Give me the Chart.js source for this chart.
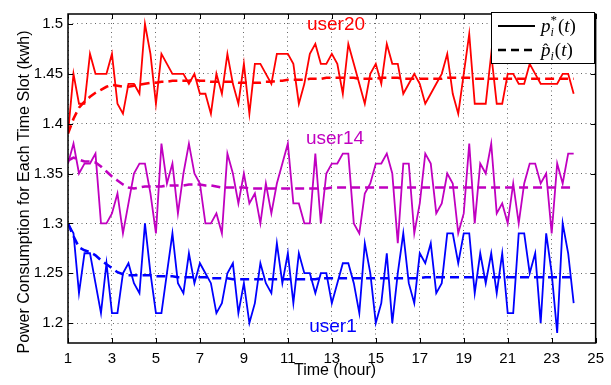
<!DOCTYPE html>
<html>
<head>
<meta charset="utf-8">
<script src="https://cdn.jsdelivr.net/npm/chart.js"></script>
<style>
  html, body { margin: 0; padding: 0; background: #fff; }
  #wrap { width: 611px; height: 385px; }
</style>
</head>
<body>
<div id="wrap"><canvas id="powerChart" width="611" height="385"></canvas></div>
<script>
// time slots (hour), one every 15 min
const times = [1, 1.25, 1.5, 1.75, 2, 2.25, 2.5, 2.75, 3, 3.25, 3.5, 3.75, 4, 4.25, 4.5, 4.75,
  5, 5.25, 5.5, 5.75, 6, 6.25, 6.5, 6.75, 7, 7.25, 7.5, 7.75, 8, 8.25, 8.5, 8.75,
  9, 9.25, 9.5, 9.75, 10, 10.25, 10.5, 10.75, 11, 11.25, 11.5, 11.75, 12, 12.25, 12.5, 12.75,
  13, 13.25, 13.5, 13.75, 14, 14.25, 14.5, 14.75, 15, 15.25, 15.5, 15.75, 16, 16.25, 16.5, 16.75,
  17, 17.25, 17.5, 17.75, 18, 18.25, 18.5, 18.75, 19, 19.25, 19.5, 19.75, 20, 20.25, 20.5, 20.75,
  21, 21.25, 21.5, 21.75, 22, 22.25, 22.5, 22.75, 23, 23.25, 23.5, 23.75, 24];

// p_i^*(t) : solid lines
const user20 = [1.39, 1.45, 1.42, 1.42, 1.47, 1.45, 1.45, 1.45, 1.47, 1.42,
  1.41, 1.44, 1.44, 1.43, 1.50, 1.47, 1.42, 1.47, 1.46, 1.45,
  1.45, 1.45, 1.44, 1.45, 1.43, 1.43, 1.41, 1.45, 1.43, 1.47,
  1.44, 1.42, 1.46, 1.41, 1.46, 1.46, 1.45, 1.44, 1.47, 1.47,
  1.47, 1.46, 1.42, 1.44, 1.47, 1.48, 1.46, 1.46, 1.47, 1.46,
  1.43, 1.48, 1.46, 1.44, 1.42, 1.45, 1.46, 1.44, 1.48, 1.46,
  1.46, 1.43, 1.44, 1.45, 1.44, 1.42, 1.43, 1.44, 1.45, 1.47,
  1.43, 1.41, 1.45, 1.49, 1.42, 1.42, 1.42, 1.47, 1.42, 1.42,
  1.45, 1.45, 1.44, 1.44, 1.46, 1.45, 1.44, 1.44, 1.44, 1.44,
  1.45, 1.45, 1.43];
const user14 = [1.36, 1.38, 1.35, 1.36, 1.36, 1.37, 1.30, 1.30, 1.31, 1.33,
  1.29, 1.32, 1.35, 1.36, 1.36, 1.33, 1.29, 1.38, 1.34, 1.36,
  1.31, 1.35, 1.38, 1.35, 1.34, 1.30, 1.30, 1.31, 1.29, 1.37,
  1.35, 1.32, 1.35, 1.32, 1.33, 1.30, 1.34, 1.31, 1.34, 1.36,
  1.38, 1.32, 1.32, 1.30, 1.30, 1.37, 1.30, 1.35, 1.36, 1.36,
  1.37, 1.37, 1.30, 1.29, 1.33, 1.34, 1.36, 1.36, 1.37, 1.35,
  1.28, 1.36, 1.36, 1.29, 1.32, 1.37, 1.36, 1.31, 1.32, 1.35,
  1.34, 1.29, 1.31, 1.38, 1.30, 1.36, 1.35, 1.38, 1.31, 1.32,
  1.30, 1.34, 1.30, 1.34, 1.36, 1.36, 1.34, 1.35, 1.29, 1.36,
  1.34, 1.37, 1.37];
const user1 = [1.30, 1.29, 1.23, 1.27, 1.27, 1.24, 1.21, 1.26, 1.21, 1.21,
  1.25, 1.26, 1.24, 1.23, 1.30, 1.25, 1.21, 1.21, 1.25, 1.29,
  1.24, 1.23, 1.27, 1.24, 1.26, 1.25, 1.24, 1.21, 1.22, 1.25,
  1.26, 1.21, 1.24, 1.20, 1.22, 1.26, 1.24, 1.23, 1.28, 1.24,
  1.27, 1.22, 1.27, 1.25, 1.25, 1.23, 1.25, 1.25, 1.22, 1.24,
  1.26, 1.26, 1.24, 1.21, 1.28, 1.25, 1.20, 1.22, 1.27, 1.20,
  1.25, 1.29, 1.24, 1.22, 1.27, 1.26, 1.28, 1.23, 1.24, 1.29,
  1.29, 1.26, 1.29, 1.29, 1.23, 1.27, 1.24, 1.27, 1.23, 1.27,
  1.21, 1.21, 1.29, 1.29, 1.25, 1.27, 1.20, 1.29, 1.25, 1.19,
  1.30, 1.27, 1.22];

// p-hat_i(t) : dashed lines
const user20Hat = [1.390, 1.405, 1.416, 1.422, 1.427, 1.431, 1.434, 1.437, 1.439, 1.438,
  1.437, 1.437, 1.438, 1.439, 1.440, 1.441, 1.441, 1.442, 1.442, 1.443,
  1.443, 1.443, 1.443, 1.444, 1.443, 1.443, 1.442, 1.442, 1.442, 1.442,
  1.442, 1.441, 1.441, 1.441, 1.441, 1.441, 1.442, 1.442, 1.443, 1.443,
  1.444, 1.444, 1.444, 1.444, 1.445, 1.445, 1.445, 1.446, 1.446, 1.446,
  1.446, 1.446, 1.446, 1.445, 1.445, 1.445, 1.445, 1.446, 1.446, 1.446,
  1.446, 1.445, 1.445, 1.445, 1.445, 1.445, 1.445, 1.445, 1.445, 1.446,
  1.446, 1.446, 1.446, 1.446, 1.445, 1.445, 1.445, 1.445, 1.445, 1.445,
  1.445, 1.445, 1.445, 1.445, 1.445, 1.445, 1.445, 1.445, 1.445, 1.445,
  1.445, 1.445, 1.445];
const user14Hat = [1.363, 1.366, 1.364, 1.362, 1.362, 1.361, 1.357, 1.352, 1.347, 1.343,
  1.339, 1.336, 1.335, 1.336, 1.337, 1.337, 1.337, 1.337, 1.338, 1.338,
  1.338, 1.338, 1.339, 1.339, 1.339, 1.338, 1.338, 1.337, 1.336, 1.336,
  1.336, 1.336, 1.336, 1.335, 1.335, 1.335, 1.335, 1.335, 1.335, 1.335,
  1.335, 1.335, 1.335, 1.335, 1.335, 1.335, 1.335, 1.335, 1.336, 1.336,
  1.336, 1.336, 1.336, 1.336, 1.336, 1.336, 1.336, 1.336, 1.336, 1.336,
  1.336, 1.336, 1.336, 1.336, 1.336, 1.336, 1.336, 1.336, 1.336, 1.336,
  1.336, 1.336, 1.336, 1.336, 1.336, 1.336, 1.336, 1.336, 1.336, 1.336,
  1.336, 1.336, 1.336, 1.336, 1.336, 1.336, 1.336, 1.336, 1.336, 1.336,
  1.336, 1.336, 1.336];
const user1Hat = [1.300, 1.287, 1.276, 1.273, 1.271, 1.268, 1.263, 1.259, 1.255, 1.251,
  1.249, 1.248, 1.248, 1.248, 1.248, 1.248, 1.247, 1.247, 1.247, 1.247,
  1.246, 1.246, 1.246, 1.246, 1.246, 1.246, 1.245, 1.245, 1.245, 1.245,
  1.244, 1.244, 1.244, 1.244, 1.244, 1.244, 1.244, 1.244, 1.244, 1.244,
  1.244, 1.244, 1.244, 1.244, 1.244, 1.244, 1.245, 1.245, 1.245, 1.245,
  1.245, 1.245, 1.245, 1.245, 1.245, 1.245, 1.245, 1.245, 1.245, 1.245,
  1.245, 1.245, 1.245, 1.245, 1.245, 1.246, 1.246, 1.246, 1.246, 1.246,
  1.246, 1.246, 1.246, 1.246, 1.246, 1.246, 1.246, 1.246, 1.246, 1.246,
  1.246, 1.246, 1.246, 1.246, 1.246, 1.246, 1.246, 1.246, 1.246, 1.246,
  1.246, 1.246, 1.246];

const xTicks = [1, 3, 5, 7, 9, 11, 13, 15, 17, 19, 21, 23, 25];
const yTicks = [1.2, 1.25, 1.3, 1.35, 1.4, 1.45, 1.5];

const RED = '#ff0000';
const MAG = '#c000c0';
const BLUE = '#0000ff';
const SANS = '"Liberation Sans", Arial, sans-serif';
const SERIF = '"Liberation Serif", "DejaVu Serif", serif';

function pts(vals) {
  return vals.map((v, i) => ({ x: times[i], y: v }));
}

function solid(vals, color) {
  return { data: pts(vals), borderColor: color, borderWidth: 1.8, pointRadius: 0, fill: false, tension: 0 };
}
function dashed(vals, color) {
  return { data: pts(vals), borderColor: color, borderWidth: 2.6, borderDash: [9, 5], pointRadius: 0, fill: false, tension: 0 };
}

// draws the matlab-like frame, inner ticks, text labels, legend and axis titles
const decorPlugin = {
  id: 'decor',
  afterDraw(chart) {
    const { ctx, chartArea: a, scales } = chart;
    const x = scales.x, y = scales.y;
    ctx.save();

    // inner tick marks
    ctx.strokeStyle = '#000';
    ctx.lineWidth = 1;
    ctx.beginPath();
    xTicks.forEach(v => {
      const px = Math.round(x.getPixelForValue(v)) + 0.5;
      ctx.moveTo(px, a.bottom); ctx.lineTo(px, a.bottom - 5);
      ctx.moveTo(px, a.top); ctx.lineTo(px, a.top + 5);
    });
    yTicks.forEach(v => {
      const py = Math.round(y.getPixelForValue(v)) + 0.5;
      ctx.moveTo(a.left, py); ctx.lineTo(a.left + 5, py);
      ctx.moveTo(a.right, py); ctx.lineTo(a.right - 5, py);
    });
    ctx.stroke();

    // frame
    ctx.lineWidth = 1.5;
    ctx.strokeRect(a.left, a.top, a.right - a.left, a.bottom - a.top);

    // user labels
    ctx.font = '19px ' + SANS;
    ctx.textAlign = 'center';
    ctx.textBaseline = 'middle';
    ctx.fillStyle = RED; ctx.fillText('user20', 336, 25);
    ctx.fillStyle = MAG; ctx.fillText('user14', 335, 139);
    ctx.fillStyle = BLUE; ctx.fillText('user1', 333, 327);

    // legend
    const lx = 491, ly = 12, lw = 103, lh = 51;
    ctx.fillStyle = '#fff';
    ctx.fillRect(lx, ly, lw, lh);
    ctx.strokeStyle = '#000';
    ctx.lineWidth = 1;
    ctx.strokeRect(lx + 0.5, ly + 0.5, lw, lh);
    ctx.lineWidth = 2;
    ctx.beginPath(); ctx.moveTo(498, 26); ctx.lineTo(535, 26); ctx.stroke();
    ctx.lineWidth = 2.6;
    ctx.setLineDash([8, 5]);
    ctx.beginPath(); ctx.moveTo(498, 50); ctx.lineTo(535, 50); ctx.stroke();
    ctx.setLineDash([]);
    drawMath(ctx, 541, 32, false);
    drawMath(ctx, 541, 56, true);

    // axis titles
    ctx.fillStyle = '#000';
    ctx.font = '16px ' + SANS;
    ctx.textAlign = 'center';
    ctx.textBaseline = 'middle';
    ctx.fillText('Time (hour)', 335, 371);
    ctx.translate(25, 192);
    ctx.rotate(-Math.PI / 2);
    ctx.fillText('Power Consumption for Each Time Slot (kwh)', 0, 0);
    ctx.restore();
  }
};

function drawMath(ctx, x, base, hat) {
  ctx.save();
  ctx.fillStyle = '#000';
  ctx.textAlign = 'left';
  ctx.textBaseline = 'alphabetic';
  ctx.font = 'italic 19px ' + SERIF;
  ctx.fillText('p', x, base);
  const pw = ctx.measureText('p').width;
  if (hat) {
    ctx.font = '16px ' + SERIF;
    ctx.fillText('\u02C6', x + 2, base - 1);
  }
  ctx.font = 'italic 12px ' + SERIF;
  ctx.fillText('i', x + pw, base + 4);
  let cx = x + pw + ctx.measureText('i').width;
  if (!hat) {
    ctx.font = '13px ' + SERIF;
    ctx.fillText('*', x + pw, base - 8);
    cx = Math.max(cx, x + pw + ctx.measureText('*').width);
  }
  cx += 1;
  ctx.font = '19px ' + SERIF;
  ctx.fillText('(', cx, base);
  cx += ctx.measureText('(').width;
  ctx.font = 'italic 19px ' + SERIF;
  ctx.fillText('t', cx, base);
  cx += ctx.measureText('t').width;
  ctx.font = '19px ' + SERIF;
  ctx.fillText(')', cx, base);
  ctx.restore();
}

new Chart(document.getElementById('powerChart').getContext('2d'), {
  type: 'line',
  data: {
    datasets: [
      solid(user20, RED), dashed(user20Hat, RED),
      solid(user14, MAG), dashed(user14Hat, MAG),
      solid(user1, BLUE), dashed(user1Hat, BLUE)
    ]
  },
  options: {
    responsive: false,
    animation: false,
    devicePixelRatio: 1,
    layout: { padding: { left: 0, right: 8, top: 5, bottom: 0 } },
    plugins: { legend: { display: false }, tooltip: { enabled: false } },
    scales: {
      x: {
        type: 'linear',
        min: 1,
        max: 25,
        afterBuildTicks: s => { s.ticks = xTicks.map(v => ({ value: v })); },
        afterFit: s => { s.height = 42; },
        ticks: { color: '#000', font: { size: 15, family: SANS }, padding: 7, maxRotation: 0, autoSkip: false },
        grid: { color: '#666', lineWidth: 1, drawTicks: false },
        border: { display: false, dash: [1, 3.5] }
      },
      y: {
        min: 1.18,
        max: 1.51,
        afterBuildTicks: s => { s.ticks = yTicks.map(v => ({ value: v })); },
        afterFit: s => { s.width = 68; },
        ticks: { color: '#000', font: { size: 15, family: SANS }, padding: 5, callback: v => String(Math.round(v * 100) / 100) },
        grid: { color: '#666', lineWidth: 1, drawTicks: false },
        border: { display: false, dash: [1, 3.5] }
      }
    }
  },
  plugins: [decorPlugin]
});
</script>
</body>
</html>
